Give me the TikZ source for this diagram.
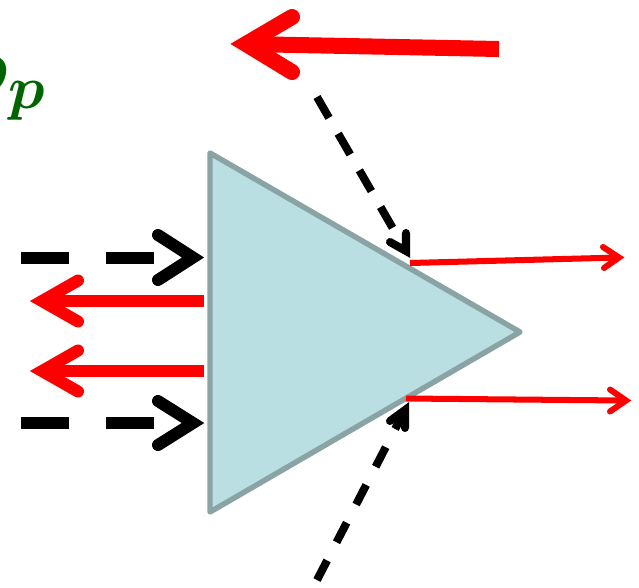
\documentclass[tikz,border=0pt]{standalone}
\usepackage{bm}
\definecolor{arrowred}{RGB}{255,0,0}
\definecolor{trifill}{RGB}{185,223,227}
\definecolor{tridraw}{RGB}{138,164,166}
\definecolor{labelgreen}{RGB}{0,100,0}
\tikzset{
  tri/.style={fill=trifill, draw=tridraw, line width=1.55pt, line join=round},
  redbig/.style={draw=arrowred, line width=4.55pt},
  redmid/.style={draw=arrowred, line width=3.41pt},
  redthin/.style={draw=arrowred, line width=1.71pt},
  blackmid/.style={draw=black, line width=3.41pt},
  blackthin/.style={draw=black, line width=2.28pt},
  chev/.style={line cap=round, line join=miter, miter limit=10},
  hdash/.style={dash pattern=on 13.66pt off 10.53pt},
  topdash/.style={dash pattern=on 6.83pt off 5.21pt},
  botdash/.style={dash pattern=on 6.26pt off 5.83pt},
  lbl/.style={text=labelgreen, inner sep=0pt, font=\fontsize{23.5}{28}\selectfont}
}
\begin{document}
\begin{tikzpicture}[x=0.01cm,y=-0.01cm]
\useasboundingbox (0,0) rectangle (639,587);
% triangle
\coordinate (T1) at (210,153);
\coordinate (T2) at (210,512);
\coordinate (T3) at (520,332);
\draw[tri] (T1) -- (T3) -- (T2) -- cycle;
% label
\node[lbl, anchor=base west] (rho) at (-46,95) {$\bm{\rho}_{\bm{p}}$};
% big top red arrow
\coordinate (bigS) at (499,49);
\coordinate (bigG) at (246,44);
\coordinate (bigA) at (292,17);
\coordinate (bigB) at (292,72);
\draw[redbig] (bigS) -- (bigG);
\draw[redbig, chev] (bigA) -- (bigG) -- (bigB);
% top dashed diagonal
\coordinate (tdS) at (317,97);
\coordinate (tdG) at (406,251);
\coordinate (tdA) at (390,242);
\coordinate (tdB) at (406,233);
\draw[blackthin, topdash] (tdS) -- (tdG);
\draw[blackthin, chev] (tdA) -- (tdG) -- (tdB);
% bottom dashed diagonal
\coordinate (bdS) at (317,580);
\coordinate (bdG) at (405,410);
\coordinate (bdA) at (390,421);
\coordinate (bdB) at (405,428);
\draw[blackthin, botdash] (bdS) -- (bdG);
\draw[blackthin, chev] (bdA) -- (bdG) -- (bdB);
% right thin red arrows
\coordinate (r1S) at (410,263);
\coordinate (r1G) at (619,257.5);
\coordinate (r1A) at (603,247);
\coordinate (r1B) at (604,268);
\draw[redthin] (r1S) -- (r1G);
\draw[redthin, chev] (r1A) -- (r1G) -- (r1B);
\coordinate (r2S) at (406,398.5);
\coordinate (r2G) at (626,400.5);
\coordinate (r2A) at (610,389.5);
\coordinate (r2B) at (610,411.5);
\draw[redthin] (r2S) -- (r2G);
\draw[redthin, chev] (r2A) -- (r2G) -- (r2B);
% left black dashed arrows
\coordinate (l1S) at (21,257.5);
\coordinate (l1G) at (193,257.5);
\coordinate (l1A) at (158,235);
\coordinate (l1B) at (158,280);
\draw[blackmid, hdash] (l1S) -- (l1G);
\draw[blackmid, chev] (l1A) -- (l1G) -- (l1B);
\coordinate (l4S) at (21,423);
\coordinate (l4G) at (193,423);
\coordinate (l4A) at (158,401);
\coordinate (l4B) at (158,445);
\draw[blackmid, hdash] (l4S) -- (l4G);
\draw[blackmid, chev] (l4A) -- (l4G) -- (l4B);
% left red arrows
\coordinate (l2S) at (204,301);
\coordinate (l2G) at (42,301);
\coordinate (l2A) at (78,280.5);
\coordinate (l2B) at (78,321.5);
\draw[redmid] (l2S) -- (l2G);
\draw[redmid, chev] (l2A) -- (l2G) -- (l2B);
\coordinate (l3S) at (204,371);
\coordinate (l3G) at (42,371);
\coordinate (l3A) at (78,350.5);
\coordinate (l3B) at (78,391.5);
\draw[redmid] (l3S) -- (l3G);
\draw[redmid, chev] (l3A) -- (l3G) -- (l3B);
\end{tikzpicture}
\end{document}
